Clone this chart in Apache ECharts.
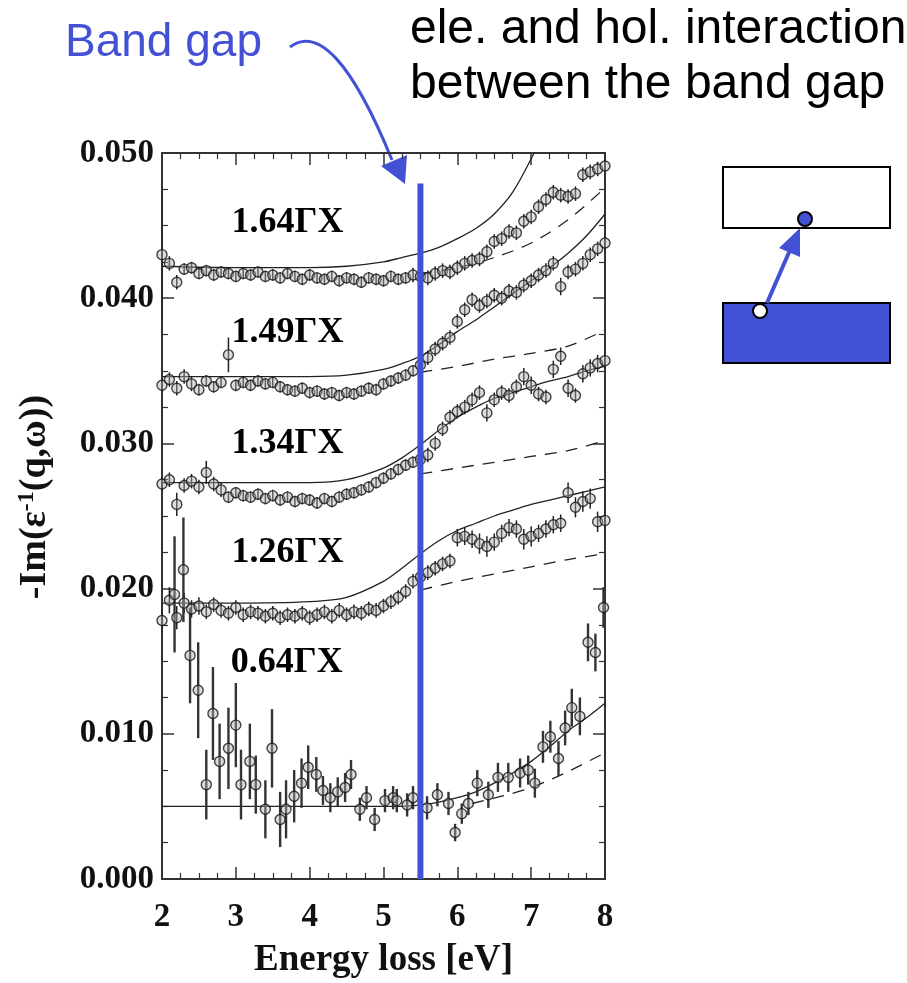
<!DOCTYPE html>
<html>
<head>
<meta charset="utf-8">
<script src="https://cdn.jsdelivr.net/npm/echarts@6/dist/echarts.min.js"></script>
<style>
  html, body { margin: 0; padding: 0; background: #fff; }
  #chart { width: 907px; height: 983px; }
</style>
</head>
<body>
<div id="chart"></div>
<script>
// energy grid of the measured points (eV)
const energy = [
  2.0, 2.1, 2.2, 2.3, 2.4, 2.5, 2.6, 2.7, 2.8, 2.9,
  3.0, 3.1, 3.2, 3.3, 3.4, 3.5, 3.6, 3.7, 3.8, 3.9,
  4.0, 4.1, 4.2, 4.3, 4.4, 4.5, 4.6, 4.7, 4.8, 4.9,
  5.0, 5.1, 5.2, 5.3, 5.4, 5.5, 5.6, 5.7, 5.8, 5.9,
  6.0, 6.1, 6.2, 6.3, 6.4, 6.5, 6.6, 6.7, 6.8, 6.9,
  7.0, 7.1, 7.2, 7.3, 7.4, 7.5, 7.6, 7.7, 7.8, 7.9,
  8.0
]

// 1.64 GX
const q164 = [
  0.0430, 0.0424, 0.0411, 0.0420, 0.0421, 0.0417, 0.0419, 0.0416, 0.0418, 0.0417,
  0.0415, 0.0417, 0.0416, 0.0418, 0.0415, 0.0416, 0.0414, 0.0417, 0.0415, 0.0413,
  0.0416, 0.0414, 0.0413, 0.0415, 0.0412, 0.0414, 0.0413, 0.0411, 0.0414, 0.0413,
  0.0412, 0.0415, 0.0413, 0.0414, 0.0416, 0.0415, 0.0414, 0.0417, 0.0419, 0.0418,
  0.0421, 0.0424, 0.0426, 0.0427, 0.0432, 0.0439, 0.0441, 0.0446, 0.0445, 0.0453,
  0.0456, 0.0463, 0.0468, 0.0473, 0.0471, 0.0470, 0.0472, 0.0485, 0.0487, 0.0489,
  0.0491
]
const e164 = [
  0.0045, 0.0005, 0.0005, 0.0004, 0.0004, 0.0004, 0.0004, 0.0004, 0.0004, 0.0004,
  0.0004, 0.0004, 0.0004, 0.0004, 0.0004, 0.0004, 0.0004, 0.0004, 0.0004, 0.0004,
  0.0004, 0.0004, 0.0004, 0.0004, 0.0004, 0.0004, 0.0004, 0.0004, 0.0004, 0.0004,
  0.0004, 0.0004, 0.0004, 0.0004, 0.0005, 0.0005, 0.0005, 0.0005, 0.0005, 0.0005,
  0.0005, 0.0005, 0.0005, 0.0005, 0.0005, 0.0005, 0.0005, 0.0005, 0.0005, 0.0005,
  0.0005, 0.0005, 0.0005, 0.0005, 0.0005, 0.0005, 0.0005, 0.0005, 0.0005, 0.0005,
  0.0005
]

// 1.49 GX
const q149 = [
  0.0340, 0.0344, 0.0338, 0.0346, 0.0341, 0.0337, 0.0343, 0.0339, 0.0342, 0.0361,
  0.0340, 0.0342, 0.0340, 0.0343, 0.0341, 0.0342, 0.0339, 0.0337, 0.0336, 0.0338,
  0.0335, 0.0336, 0.0334, 0.0335, 0.0333, 0.0335, 0.0334, 0.0336, 0.0338, 0.0337,
  0.0341, 0.0343, 0.0345, 0.0347, 0.0350, 0.0354, 0.0359, 0.0365, 0.0369, 0.0373,
  0.0384, 0.0392, 0.0399, 0.0395, 0.0398, 0.0402, 0.0400, 0.0405, 0.0404, 0.0409,
  0.0412, 0.0416, 0.0419, 0.0424, 0.0408, 0.0418, 0.0420, 0.0424, 0.0430, 0.0434,
  0.0438
]
const e149 = [
  0.0005, 0.0005, 0.0005, 0.0005, 0.0005, 0.0004, 0.0004, 0.0004, 0.0004, 0.0012,
  0.0004, 0.0004, 0.0004, 0.0004, 0.0004, 0.0004, 0.0004, 0.0004, 0.0004, 0.0004,
  0.0004, 0.0004, 0.0004, 0.0004, 0.0004, 0.0004, 0.0004, 0.0004, 0.0004, 0.0004,
  0.0004, 0.0004, 0.0004, 0.0004, 0.0004, 0.0005, 0.0005, 0.0005, 0.0005, 0.0005,
  0.0005, 0.0005, 0.0005, 0.0005, 0.0005, 0.0005, 0.0005, 0.0005, 0.0005, 0.0005,
  0.0005, 0.0005, 0.0005, 0.0005, 0.0006, 0.0005, 0.0005, 0.0005, 0.0005, 0.0005,
  0.0005
]

// 1.34 GX
const q134 = [
  0.0272, 0.0275, 0.0258, 0.0271, 0.0274, 0.0270, 0.0280, 0.0272, 0.0268, 0.0263,
  0.0266, 0.0264, 0.0263, 0.0265, 0.0262, 0.0264, 0.0261, 0.0263, 0.0260, 0.0262,
  0.0261, 0.0259, 0.0262, 0.0260, 0.0263, 0.0265, 0.0266, 0.0268, 0.0270, 0.0273,
  0.0276, 0.0279, 0.0282, 0.0285, 0.0287, 0.0289, 0.0292, 0.0300, 0.0310, 0.0318,
  0.0322, 0.0325, 0.0330, 0.0335, 0.0321, 0.0330, 0.0335, 0.0333, 0.0339, 0.0346,
  0.0340, 0.0334, 0.0332, 0.0351, 0.0360, 0.0338, 0.0333, 0.0348, 0.0352, 0.0355,
  0.0357
]
const e134 = [
  0.0005, 0.0005, 0.0008, 0.0005, 0.0005, 0.0005, 0.0008, 0.0005, 0.0005, 0.0004,
  0.0004, 0.0004, 0.0004, 0.0004, 0.0004, 0.0004, 0.0004, 0.0004, 0.0004, 0.0004,
  0.0004, 0.0004, 0.0004, 0.0004, 0.0004, 0.0004, 0.0004, 0.0004, 0.0004, 0.0004,
  0.0004, 0.0004, 0.0004, 0.0004, 0.0004, 0.0005, 0.0005, 0.0005, 0.0005, 0.0005,
  0.0005, 0.0005, 0.0005, 0.0005, 0.0006, 0.0005, 0.0005, 0.0005, 0.0005, 0.0006,
  0.0006, 0.0005, 0.0005, 0.0006, 0.0006, 0.0006, 0.0005, 0.0006, 0.0006, 0.0006,
  0.0006
]

// 1.26 GX
const q126 = [
  0.0178, 0.0192, 0.0180, 0.0190, 0.0186, 0.0188, 0.0184, 0.0189, 0.0185, 0.0183,
  0.0187, 0.0182, 0.0184, 0.0183, 0.0181, 0.0183, 0.0180, 0.0182, 0.0181, 0.0183,
  0.0180, 0.0182, 0.0184, 0.0181, 0.0185, 0.0182, 0.0184, 0.0183, 0.0186, 0.0185,
  0.0188, 0.0191, 0.0194, 0.0198, 0.0205, 0.0208, 0.0211, 0.0214, 0.0217, 0.0219,
  0.0235, 0.0236, 0.0234, 0.0231, 0.0229, 0.0232, 0.0238, 0.0242, 0.0241, 0.0234,
  0.0236, 0.0238, 0.0241, 0.0244, 0.0245, 0.0266, 0.0256, 0.0260, 0.0262, 0.0246,
  0.0247
]
const e126 = [
  0.0009, 0.0009, 0.0008, 0.0007, 0.0006, 0.0006, 0.0005, 0.0005, 0.0005, 0.0005,
  0.0005, 0.0005, 0.0005, 0.0005, 0.0005, 0.0005, 0.0005, 0.0005, 0.0005, 0.0005,
  0.0005, 0.0005, 0.0005, 0.0005, 0.0005, 0.0005, 0.0005, 0.0005, 0.0005, 0.0005,
  0.0005, 0.0005, 0.0005, 0.0005, 0.0005, 0.0005, 0.0005, 0.0005, 0.0005, 0.0005,
  0.0006, 0.0006, 0.0006, 0.0007, 0.0007, 0.0006, 0.0006, 0.0006, 0.0006, 0.0007,
  0.0007, 0.0006, 0.0006, 0.0006, 0.0006, 0.0007, 0.0007, 0.0007, 0.0007, 0.0007,
  0.0007
]

// 0.64 GX (own energy grid, larger error bars)
const energy064 = [
  2.17, 2.29, 2.38, 2.49, 2.60, 2.69, 2.78, 2.90, 3.00, 3.07,
  3.19, 3.27, 3.40, 3.49, 3.60, 3.68, 3.79, 3.89, 3.98, 4.09,
  4.18, 4.28, 4.38, 4.48, 4.56, 4.68, 4.77, 4.88, 5.02, 5.13,
  5.18, 5.32, 5.40, 5.59, 5.73, 5.88, 5.97, 6.06, 6.15, 6.27,
  6.42, 6.55, 6.69, 6.85, 6.96, 7.05, 7.16, 7.26, 7.37, 7.46,
  7.55, 7.66, 7.77, 7.87, 7.98
]
const q064 = [
  0.0196, 0.0213, 0.0154, 0.0130, 0.0065, 0.0114, 0.0081, 0.0090, 0.0106, 0.0065,
  0.0081, 0.0065, 0.0048, 0.0090, 0.0041, 0.0048, 0.0057, 0.0066, 0.0077, 0.0072,
  0.0061, 0.0056, 0.0060, 0.0063, 0.0072, 0.0048, 0.0056, 0.0041, 0.0054, 0.0056,
  0.0054, 0.0051, 0.0056, 0.0049, 0.0058, 0.0052, 0.0032, 0.0045, 0.0052, 0.0066,
  0.0058, 0.0070, 0.0070, 0.0073, 0.0075, 0.0066, 0.0091, 0.0098, 0.0083, 0.0104,
  0.0118, 0.0112, 0.0163, 0.0156, 0.0187
]
const e064 = [
  0.0040, 0.0036, 0.0033, 0.0033, 0.0024, 0.0032, 0.0026, 0.0028, 0.0029, 0.0024,
  0.0026, 0.0020, 0.0020, 0.0027, 0.0019, 0.0020, 0.0018, 0.0017, 0.0015, 0.0012,
  0.0010, 0.0010, 0.0010, 0.0010, 0.0010, 0.0008, 0.0008, 0.0008, 0.0008, 0.0008,
  0.0008, 0.0008, 0.0008, 0.0008, 0.0008, 0.0008, 0.0006, 0.0007, 0.0008, 0.0009,
  0.0009, 0.0010, 0.0010, 0.0010, 0.0010, 0.0010, 0.0011, 0.0011, 0.0012, 0.0012,
  0.0013, 0.0013, 0.0013, 0.0013, 0.0014
]

// fitted curves (solid)
const fitX = [2.0, 3.0, 4.0, 4.5, 5.0, 5.25, 5.5, 5.75, 6.0, 6.25, 6.5, 6.75, 7.0, 7.25, 7.5, 7.75, 8.0]
const fit164 = [0.0422, 0.0421, 0.0421, 0.0422, 0.0425, 0.0428, 0.0431, 0.0435, 0.0441, 0.0448, 0.0458, 0.0473, 0.0496, 0.0522, 0.0548, 0.0574, 0.0600]
const fit149 = [0.0346, 0.0346, 0.0346, 0.0347, 0.0351, 0.0355, 0.0360, 0.0368, 0.0377, 0.0385, 0.0394, 0.0403, 0.0412, 0.0421, 0.0431, 0.0443, 0.0458]
const fit134 = [0.0273, 0.0273, 0.0273, 0.0275, 0.0283, 0.0290, 0.0299, 0.0309, 0.0318, 0.0325, 0.0331, 0.0335, 0.0339, 0.0343, 0.0346, 0.0350, 0.0353]
const fit126 = [0.0190, 0.0190, 0.0191, 0.0194, 0.0205, 0.0214, 0.0224, 0.0233, 0.0240, 0.0245, 0.0250, 0.0254, 0.0258, 0.0261, 0.0264, 0.0267, 0.0270]
const fit064 = [0.0050, 0.0050, 0.0050, 0.0050, 0.0050, 0.0050, 0.0051, 0.0053, 0.0056, 0.0060, 0.0066, 0.0073, 0.0081, 0.0091, 0.0102, 0.0111, 0.0121]

// dashed curves
const dashX = [5.5, 6.0, 6.5, 7.0, 7.5, 8.0]
const dash164 = [0.0417, 0.0421, 0.0428, 0.0438, 0.0454, 0.0476]
const dash149 = [0.0349, 0.0353, 0.0358, 0.0362, 0.0367, 0.0378]
const dash134 = [0.0279, 0.0283, 0.0287, 0.0291, 0.0295, 0.0302]
const dash126 = [0.0199, 0.0205, 0.0210, 0.0215, 0.0220, 0.0224]
const dashX064 = [6.2, 6.6, 7.0, 7.5, 8.0]
const dash064 = [0.0052, 0.0057, 0.0063, 0.0074, 0.0087]

// band gap marker
const gapX = [5.5, 5.5]
const gapY = [0.0, 0.0479]

// curve labels
const labelText = ['1.64ΓX', '1.49ΓX', '1.34ΓX', '1.26ΓX', '0.64ΓX']
const labelX = [3.70, 3.70, 3.70, 3.70, 3.69]
const labelY = [0.0452, 0.0376, 0.0300, 0.0225, 0.0149]

const xTicks = [2, 3, 4, 5, 6, 7, 8]
const yTicks = [0.000, 0.010, 0.020, 0.030, 0.040, 0.050]

const serif = '"Liberation Serif", "DejaVu Serif", serif'
const blue = '#4352d4'

const chart = echarts.init(document.getElementById('chart'))

const zip = (xs, ys) => xs.map((x, i) => [x, ys[i]])

const pointsSeries = (xs, ys) => ({
  type: 'scatter',
  data: zip(xs, ys),
  symbol: 'circle',
  symbolSize: 10,
  itemStyle: {color: 'rgba(175,175,175,0.55)', borderColor: '#151515', borderWidth: 1.4},
  clip: true,
  silent: true,
  z: 4
})

const errSeries = (xs, ys, es, width, color) => ({
  type: 'custom',
  data: xs.map((x, i) => [x, ys[i], es[i]]),
  encode: {x: 0, y: 1},
  renderItem: (params, api) => {
    const x = api.value(0), y = api.value(1), e = api.value(2)
    const p1 = api.coord([x, y - e])
    const p2 = api.coord([x, y + e])
    return {
      type: 'line',
      shape: {x1: p1[0], y1: p1[1], x2: p2[0], y2: p2[1]},
      style: {stroke: color, lineWidth: width}
    }
  },
  clip: true,
  silent: true,
  z: 3
})

const curveSeries = (xs, ys, dashed) => ({
  type: 'line',
  data: zip(xs, ys),
  showSymbol: false,
  smooth: 0.3,
  lineStyle: {color: '#222', width: 1.3, type: dashed ? [12, 9] : 'solid'},
  clip: true,
  silent: true,
  z: 2
})

const tickAxisX = (pos, showLabel) => ({
  type: 'value',
  position: pos,
  min: 2,
  max: 8,
  interval: 1,
  axisLine: {show: true, onZero: false, lineStyle: {color: '#333', width: 2}},
  axisTick: {show: true, inside: true, length: 12, lineStyle: {color: '#333', width: 1.5}},
  minorTick: {show: true, splitNumber: 4, length: 6, lineStyle: {color: '#333', width: 1.2}},
  splitLine: {show: false},
  axisLabel: {
    show: showLabel,
    margin: 22,
    fontFamily: serif,
    fontWeight: 'bold',
    fontSize: 33,
    color: '#111',
    formatter: v => xTicks.includes(v) ? String(v) : ''
  }
})

const tickAxisY = (pos, showLabel) => ({
  type: 'value',
  position: pos,
  min: 0,
  max: 0.05,
  interval: 0.01,
  axisLine: {show: true, onZero: false, lineStyle: {color: '#333', width: 2}},
  axisTick: {show: true, inside: true, length: 12, lineStyle: {color: '#333', width: 1.5}},
  minorTick: {show: true, splitNumber: 4, length: 6, lineStyle: {color: '#333', width: 1.2}},
  splitLine: {show: false},
  axisLabel: {
    show: showLabel,
    margin: 8,
    fontFamily: serif,
    fontWeight: 'bold',
    fontSize: 33,
    color: '#111',
    formatter: v => yTicks.some(t => Math.abs(t - v) < 1e-9) ? v.toFixed(3) : ''
  }
})

const xBottom = tickAxisX('bottom', true)
xBottom.name = 'Energy loss [eV]'
xBottom.nameLocation = 'middle'
xBottom.nameGap = 63
xBottom.nameTextStyle = {fontFamily: serif, fontWeight: 'bold', fontSize: 37, color: '#111'}

const yLeft = tickAxisY('left', true)
yLeft.name = '-Im(ε{sup|-1}(q,ω))'
yLeft.nameLocation = 'middle'
yLeft.nameGap = 107
yLeft.nameTextStyle = {
  fontFamily: serif, fontWeight: 'bold', fontSize: 38, color: '#111',
  padding: [0, 0, 0, 38],
  rich: {sup: {fontFamily: serif, fontWeight: 'bold', fontSize: 24, color: '#111', verticalAlign: 'top', padding: [0, 0, 16, 0]}}
}

const option = {
  backgroundColor: '#fff',
  animation: false,
  grid: {left: 162, right: 302, top: 153, bottom: 104, outerBoundsMode: 'none'},
  xAxis: [xBottom, tickAxisX('top', false)],
  yAxis: [yLeft, tickAxisY('right', false)],
  series: [
    curveSeries(fitX, fit164, false),
    curveSeries(fitX, fit149, false),
    curveSeries(fitX, fit134, false),
    curveSeries(fitX, fit126, false),
    curveSeries(fitX, fit064, false),
    curveSeries(dashX, dash164, true),
    curveSeries(dashX, dash149, true),
    curveSeries(dashX, dash134, true),
    curveSeries(dashX, dash126, true),
    curveSeries(dashX064, dash064, true),
    errSeries(energy, q164, e164, 1.5, '#222'),
    errSeries(energy, q149, e149, 1.5, '#222'),
    errSeries(energy, q134, e134, 1.5, '#222'),
    errSeries(energy, q126, e126, 1.5, '#222'),
    errSeries(energy064, q064, e064, 2.4, '#333'),
    pointsSeries(energy, q164),
    pointsSeries(energy, q149),
    pointsSeries(energy, q134),
    pointsSeries(energy, q126),
    pointsSeries(energy064, q064),
    {
      type: 'line',
      data: zip(gapX, gapY),
      showSymbol: false,
      lineStyle: {color: blue, width: 6},
      silent: true,
      z: 10
    },
    {
      // curve labels, placed in data coordinates
      type: 'custom',
      data: labelText.map((t, i) => [labelX[i], labelY[i], i]),
      encode: {x: 0, y: 1},
      renderItem: (params, api) => {
        const p = api.coord([api.value(0), api.value(1)])
        return {
          type: 'text',
          x: p[0],
          y: p[1],
          style: {
            text: labelText[api.value(2)],
            fill: '#000',
            font: 'bold 36px "Liberation Serif", "DejaVu Serif", serif',
            align: 'center',
            verticalAlign: 'middle'
          }
        }
      },
      silent: true,
      z: 6
    }
  ],
  graphic: [
    {type: 'text', x: 65, y: 20, style: {text: 'Band gap', font: '46px "Liberation Sans", Arial, sans-serif', fill: blue}},
    {type: 'text', x: 410, y: 6, style: {text: 'ele. and hol. interaction', font: '48px "Liberation Sans", Arial, sans-serif', fill: '#000'}},
    {type: 'text', x: 410, y: 61, style: {text: 'between the band gap', font: '48px "Liberation Sans", Arial, sans-serif', fill: '#000'}},
    {type: 'bezierCurve', shape: {x1: 290, y1: 47, cpx1: 318, cpy1: 26, cpx2: 352, cpy2: 62, x2: 392, y2: 160}, style: {stroke: blue, lineWidth: 3, fill: null}},
    {type: 'polygon', shape: {points: [[381, 166], [407, 155], [405, 184]]}, style: {fill: blue}},
    {type: 'rect', shape: {x: 723, y: 167, width: 167, height: 61}, style: {fill: '#fff', stroke: '#000', lineWidth: 2}},
    {type: 'rect', shape: {x: 723, y: 303, width: 167, height: 60}, style: {fill: blue, stroke: '#000', lineWidth: 2}},
    {type: 'line', shape: {x1: 767, y1: 303, x2: 790, y2: 250}, style: {stroke: blue, lineWidth: 4}},
    {type: 'polygon', shape: {points: [[779, 248], [800, 257], [800, 228]]}, style: {fill: blue}},
    {type: 'circle', shape: {cx: 805, cy: 219, r: 7}, style: {fill: blue, stroke: '#000', lineWidth: 2}},
    {type: 'circle', shape: {cx: 760, cy: 311, r: 7}, style: {fill: '#fff', stroke: '#000', lineWidth: 2}}
  ]
}

chart.setOption(option)
</script>
</body>
</html>
